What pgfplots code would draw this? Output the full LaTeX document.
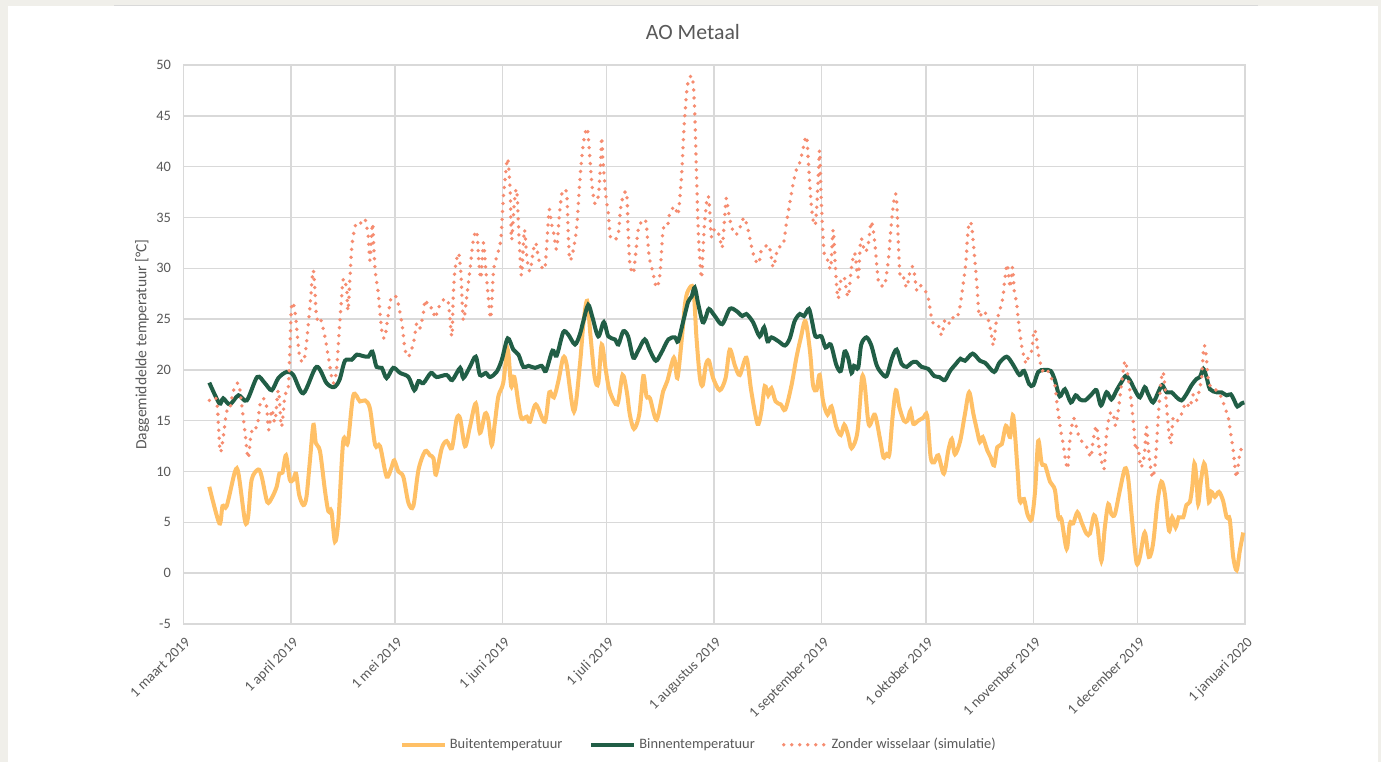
\documentclass[border=0pt]{standalone}
\usepackage{fontspec}
\setmainfont{Carlito}
\usepackage{pgfplots}
\pgfplotsset{compat=1.18}
\definecolor{buiten}{RGB}{255,192,102}
\definecolor{binnen}{RGB}{33,94,70}
\definecolor{zonder}{RGB}{246,140,112}
\definecolor{gridc}{RGB}{217,217,217}
\definecolor{txt}{RGB}{89,89,89}
\definecolor{beige}{RGB}{240,239,234}
\begin{document}
\begin{tikzpicture}
\fill[beige] (0,0) rectangle (690.5pt,381pt);
\fill[white] (4pt,0) rectangle (689pt,378pt);
\draw[gridc, line width=0.6pt] (57pt,378.2pt) -- (629pt,378.2pt);
\useasboundingbox (0,0) rectangle (690.5pt,381pt);
\begin{axis}[
  at={(91.65pt,69pt)}, anchor=south west,
  width=530.85pt, height=279.5pt, scale only axis,
  xmin=0, xmax=306, ymin=-5, ymax=50,
  ytick={-5,0,5,10,15,20,25,30,35,40,45,50},
  xtick={0,31,61,92,122,153,184,214,245,275,306},
  xticklabels={1 maart 2019, 1 april 2019, 1 mei 2019, 1 juni 2019, 1 juli 2019, 1 augustus 2019, 1 september 2019, 1 oktober 2019, 1 november 2019, 1 december 2019, 1 januari 2020},
  grid=major,
  grid style={gridc, line width=0.7pt},
  axis line style={gridc, line width=0.7pt},
  major tick length=0pt,
  /pgf/number format/assume math mode=true,
  tick label style={text=txt, font=\fontsize{7.2}{8.5}\selectfont},
  yticklabel style={inner sep=0pt, xshift=-6pt},
  x tick label style={xshift=0.5pt, yshift=-6pt, rotate=45, anchor=north east, inner sep=0pt},
  ylabel={Daggemiddelde temperatuur [°C]},
  ylabel style={at={(axis description cs:-0.0389,0.5)}, anchor=center, text=txt, font=\fontsize{7.8}{9}\selectfont},
  title={AO Metaal},
  title style={at={(axis description cs:0.480,1.059)}, anchor=center, yshift=-6pt, text=txt, font=\fontsize{10.9}{13}\selectfont},
  legend columns=3,
  legend style={at={(axis description cs:0.486,-0.216)}, anchor=center, draw=none, fill=none,
    font=\fontsize{7.2}{8.5}\selectfont, text=txt,
    nodes={inner sep=1.5pt},
    /tikz/every even column/.append style={column sep=12pt}},
  legend image code/.code={\draw[#1] (0pt,0pt) -- (21.5pt,0pt);},
]
\addplot[buiten, line width=2pt, smooth, tension=0.5] coordinates {
(7.5,8.5)(10.4,4.9)(11.3,6.6)(12.5,6.6)(14.9,10)(15.9,9.8)(17.8,5.1)(18.7,5.6)(19.7,9.2)(21.6,10.2)(22.6,9.5)(24.2,7)(25.5,7.4)(26.9,8.5)(27.7,9.8)(28.6,9.9)(29.6,11.6)(30.7,9.2)(31.7,9.2)(32.5,9.8)(33.4,7.7)(34.6,6.7)(35.5,7.5)(36.5,11.1)(37.5,14.6)(38.2,12.8)(39.4,12)(40.8,8.2)(41.8,6.1)(42.7,6.1)(43.7,3.1)(44.7,5.2)(46.1,13)(47.4,12.8)(49,17.5)(50.9,16.9)(52.4,17)(53.8,16.2)(55.3,12.6)(56.7,12.5)(58.6,9.5)(60.1,10.5)(60.8,11.1)(62,10)(63.4,9.5)(64.9,6.9)(66.3,6.6)(67.8,10.2)(69.7,12)(71.1,11.6)(72.1,11.3)(72.8,9.7)(74.5,12.3)(75.9,13)(77.4,12.3)(78.8,15.2)(79.8,15.2)(81.2,12.5)(82.6,14.4)(84.3,16.7)(85.5,13.8)(87,15.7)(87.9,15.1)(88.9,12.6)(89.8,14.8)(90.8,17.4)(92.2,18.7)(93.5,22)(94.5,18.4)(95.4,19.3)(96.6,16.7)(97.5,15.2)(99,15.4)(99.9,14.9)(101.6,16.6)(104.2,14.9)(105.5,17.8)(106.8,17.3)(108.1,18.9)(109.5,21.2)(110.5,20.5)(112.6,15.9)(114.3,20.5)(115.3,24.5)(116.4,26.8)(117.4,23.2)(118.6,19.2)(119.6,18.7)(120.6,22.5)(121.8,19.9)(122.9,17.9)(125.1,16.6)(126.6,19.5)(127.8,17.9)(128.7,15.6)(129.9,14.2)(131.4,15.6)(132.6,19.4)(133.5,17.4)(134.5,17.2)(136.4,15.1)(138.3,17.9)(139.5,18.9)(141.4,21.2)(142.4,19.2)(143.6,22.8)(144.6,26.5)(145.5,27.8)(147,28)(147.9,23.2)(148.9,19.2)(149.7,18.5)(150.6,20.5)(151.5,20.9)(152.7,19.2)(154.6,18)(156.3,19.2)(157.5,22)(159,20.4)(160.4,19.5)(162.3,21.2)(163.7,17.9)(165.5,14.7)(166.6,15.9)(167.6,18.4)(168.6,17.5)(169.5,18.2)(170.7,16.9)(172.2,16.6)(173.5,16.1)(175.3,18.5)(176.7,21.2)(178,23.2)(179.3,24.8)(180.6,21.9)(181.5,18.5)(182.5,18)(183.4,19.5)(184.4,16.9)(185.7,15.6)(186.8,16.4)(188.2,14.4)(189.5,13.6)(190.5,14.6)(191.6,13.6)(192.6,12.3)(194.3,13.9)(195.6,19.2)(196.4,18.5)(197.6,14.6)(199.3,15.6)(200.8,13.2)(201.8,11.4)(202.7,11.7)(203.5,11.7)(204.4,15.3)(205.4,18)(206.4,16.3)(207.7,15)(208.7,15)(209.6,16)(210.4,14.7)(211.8,15)(213.3,15.3)(214.4,15.5)(215.4,11.4)(216.4,10.9)(217.6,11.6)(219.2,9.8)(220.5,12.1)(221.5,13.2)(222.4,11.7)(223.9,13)(225.3,15.7)(226.5,17.8)(227.7,15.7)(228.8,14)(229.6,12.9)(230.4,13.4)(231.7,12.1)(232.7,11.4)(233.7,10.6)(234.6,12.4)(235.9,12.7)(237.1,14.5)(238.3,13.4)(239.2,15.5)(240.4,10.4)(241.1,7.1)(242.3,7.3)(243.3,5.8)(244.5,5.3)(245.5,8.1)(246.4,13)(247.4,10.8)(248.4,10.6)(249.8,9)(251.2,8.2)(252.2,5.5)(253.1,5.3)(254.6,2.4)(255.5,4.9)(256.5,4.9)(257.7,6)(258.9,5)(260.3,3.9)(261.3,3.9)(262.5,5.7)(263.5,4.5)(264.6,1.2)(265.6,4.5)(266.6,6.8)(267.5,5.8)(268.5,5.8)(269.9,8.1)(271.4,10.3)(272.3,9.4)(273.3,5.8)(274.7,1.1)(275.7,1.6)(277.1,4)(278.3,1.6)(279.5,2.9)(280.8,7.1)(281.9,9)(282.9,7.8)(284.1,4.2)(285,5.5)(286,4.5)(286.9,5.5)(288.2,5.5)(289.1,6.7)(290.1,7)(290.8,8.5)(291.4,10.8)(292,9.4)(292.5,6.8)(293.3,9.1)(294.2,10.8)(294.9,9.6)(295.6,7)(296.3,8)(297.3,7.5)(298.5,8)(299.7,7.1)(300.7,5.5)(301.6,5.3)(302.6,1.6)(303.6,0.3)(304.5,2.2)(305.5,4)
};
\addlegendentry{Buitentemperatuur}
\addplot[binnen, line width=2pt, smooth, tension=0.5] coordinates {
(7.5,18.75)(10.4,16.7)(11.5,17.2)(13.4,16.6)(15.9,17.5)(18.3,17)(21.3,19.3)(23.5,18.7)(25.5,18)(27.4,19.2)(29.8,19.8)(31.7,19.5)(34.6,17.7)(38.4,20.3)(41.3,18.7)(43.4,18.3)(45,19)(46.6,20.9)(48.5,21)(50,21.5)(51.4,21.4)(53.3,21.3)(54.5,21.8)(55.7,20.3)(57.2,20.2)(58.6,19.2)(60.5,20.2)(62.5,19.7)(64.9,19.3)(66.6,18)(67.8,18.9)(69.2,18.7)(71.4,19.7)(73,19.3)(75.9,19.5)(77.5,19)(79.8,20.2)(80.7,19.2)(82.6,20.3)(84.3,21.3)(85.5,19.5)(87.2,19.7)(88.4,19.3)(90.3,19.8)(91.8,21)(93.5,23.1)(95.1,22)(96.6,21.5)(98,20.3)(99.5,20.4)(101.4,20.2)(103.3,20.4)(104.5,19.9)(106.4,21.9)(107.6,21.4)(109.5,23.7)(110.9,23.5)(112.9,22.5)(114.3,23.5)(115.3,24.8)(116.7,26.4)(117.9,25.2)(119.6,23.3)(121.2,24.7)(122.5,23.3)(124.4,23)(125.4,22.5)(126.8,23.8)(128.2,23.3)(129.7,21.2)(131.1,21.9)(133,23)(134.5,21.9)(136.2,20.9)(137.8,21.7)(139.8,23)(141.7,23.2)(142.6,22.8)(144.1,24.8)(145.5,26.7)(146.5,27.2)(147.4,28.1)(148.4,26.5)(149.7,24.7)(150.6,25.2)(151.5,26)(153.2,25.3)(155.3,24.5)(157.5,26)(159.4,25.8)(161.1,25.3)(162.3,25.5)(164.2,24.7)(166.1,23.3)(167.4,24.2)(168.4,22.8)(169.5,23.2)(171.6,22.8)(173.4,22.4)(174.8,23.1)(176.2,24.8)(177.7,25.5)(178.9,25.3)(180.3,26)(181.2,24.8)(182.2,23.3)(183.9,23.3)(185.1,22.2)(186.6,22.5)(188.2,20.5)(189.5,19.9)(190.6,21.8)(191.6,21.2)(192.6,19.7)(193.3,20.4)(194.5,20.2)(195.4,22.5)(196.9,23.2)(198.3,22.4)(199.8,20.5)(201.2,19.7)(202.7,19.4)(204.2,21.1)(205.6,22)(207,20.6)(208.5,20.3)(209.9,20.7)(211.2,20.8)(212.8,20.3)(214.7,20.1)(216.4,19.4)(217.9,19.3)(219.5,19)(221,19.9)(222.7,20.6)(224,21.1)(225.3,20.9)(227.5,21.6)(229.6,20.9)(231.1,20.7)(233.7,19.8)(235.2,20.7)(237.3,21.3)(239,20.6)(241,19.5)(242.3,19.9)(243.8,18.6)(245,18.5)(246.4,19.8)(248.1,20)(250,19.9)(251.2,19)(252.6,17.4)(254.1,18.1)(255.8,16.8)(257.2,17.5)(258.4,17.1)(259.9,17)(261.8,17.6)(263.2,18)(264.5,16.5)(266.1,17.8)(267.5,17.1)(269,18)(270.4,18.8)(271.6,19.4)(272.8,19)(274.3,18)(275.7,17.3)(277.1,18.3)(278.1,17.6)(279.5,16.8)(281,17.8)(282.1,18.5)(283.4,17.8)(284.8,17.8)(286.3,17.3)(287.7,17)(289.1,17.6)(290.6,18.5)(292,19.1)(293,19.3)(294,20.1)(294.9,19.3)(295.9,18.1)(297.8,17.8)(299.2,17.8)(300.7,17.5)(301.9,17.6)(302.9,17)(303.8,16.4)(305,16.7)(305.8,16.8)
};
\addlegendentry{Binnentemperatuur}
\addplot[zonder, line width=1.9pt, line cap=round, dash pattern=on 0pt off 4pt, smooth, tension=0.5] coordinates {
(7.5,17)(9.6,17)(10.6,12)(11.5,13.4)(12.5,15.9)(13.4,16.1)(14.4,17.9)(15.9,18.7)(16.8,16.7)(17.8,13.8)(18.7,11.3)(19.4,13.4)(20.2,14.4)(21.3,14.4)(22.1,16.6)(23.1,17.2)(24,16.4)(24.6,14.1)(25.5,16.1)(26.4,14.9)(27.4,18)(28.3,14.4)(29.3,17.5)(30.3,18.4)(31.2,26.2)(32.2,25.7)(33.4,21.6)(34.6,20.8)(35.5,22.6)(36.5,26.2)(37.5,29.8)(38.4,25.2)(39.4,25.2)(40.8,23.3)(41.8,21.3)(43.2,18.7)(44.2,20.2)(45.1,24.6)(46.1,28.9)(47.1,27.9)(47.5,25.9)(48.5,31.8)(49.5,34.1)(50.5,34.6)(51.4,34.4)(52.4,34.8)(53.3,33.1)(53.8,30.8)(54.5,34.4)(54.8,32.8)(55.3,29.8)(56.2,27.5)(57.2,23.9)(58,23.1)(58.6,24.3)(59.6,26.6)(60.1,27.2)(61.5,27.1)(63,24.6)(63.9,22)(64.9,21.3)(66.3,22.6)(67.3,24.6)(68.2,24.1)(69.2,25.6)(69.7,26.9)(70.8,26.1)(71.8,26.1)(72.6,25.1)(73.3,25.9)(74.3,26.6)(75.4,27)(76.4,26.6)(77.4,23.3)(77.8,27.2)(78.3,29.8)(79.3,31.5)(80,29.5)(80.7,24.9)(81.7,27.2)(82.6,29.8)(83.6,32.8)(84.6,33.6)(85.2,30.5)(85.8,29)(86.5,32.5)(87.2,29.8)(87.9,27.2)(88.6,25.1)(89.4,29.7)(90.3,31.1)(91.5,32.8)(92.2,36.7)(92.9,39.3)(93.5,40.8)(94.2,37.7)(94.6,32.8)(95.4,36.4)(96.1,37.7)(96.8,32.8)(97.5,29.3)(98.3,33.8)(99,31.1)(99.9,29.7)(100.9,31.8)(101.6,32.5)(102.3,31.1)(103,30.3)(104.2,30)(104.9,33.1)(105.5,35.8)(106.1,34.4)(106.8,33.4)(107.6,31.9)(108.4,35.3)(109,37.1)(109.5,37.7)(110.5,37.4)(110.9,33.8)(111.4,30.8)(112.4,31.8)(113.4,34.1)(114.1,37.7)(114.8,40.7)(115.5,42.7)(116.4,43.8)(117,41.7)(117.7,38.5)(118.6,36.4)(119.6,37.1)(120.3,40.4)(120.6,42.9)(121,40.4)(121.8,37.1)(122.5,35.4)(123.1,33.1)(124.4,32.8)(125.4,33.4)(126,35.8)(126.8,37.1)(127.8,37.4)(128.2,33.8)(128.7,30.5)(129.7,29.5)(130.4,31.5)(131.1,33.8)(132.1,34.6)(133.3,34.6)(134.3,31.1)(135.2,29.8)(136.4,28.1)(137.4,29.5)(138.3,33.8)(139.5,34.1)(140.2,35.4)(141.7,36.1)(142.6,35.3)(143.6,39.1)(144.3,43.7)(145.1,47.4)(145.8,48.7)(146.8,48.7)(147.4,45.4)(147.9,39.4)(148.4,33.8)(148.9,30.8)(149.4,29.1)(150.1,33.8)(150.8,36.4)(151.3,37.1)(151.7,35.8)(152.2,33.1)(153,33.8)(153.7,33.8)(154.6,33.1)(155.3,32)(155.9,34.4)(156.5,36.9)(157.2,35.4)(158,34.1)(159.1,33.3)(159.9,33.6)(160.9,34.4)(161.6,35)(162.6,34.1)(163.3,32.9)(164.2,31.5)(165.2,30.6)(165.9,30.5)(166.6,31.8)(167.6,32.1)(168.7,32.3)(169.3,31.5)(170,30.1)(171,31.5)(171.6,32.1)(172.9,32.3)(173.8,34.4)(174.8,36.4)(175.8,38.4)(176.7,39.7)(177.7,40.4)(178.6,41.7)(179.6,43)(180.1,40.7)(180.8,37.1)(181.5,34.8)(182.2,34.4)(182.9,38.1)(183.4,41.6)(183.9,36.4)(184.7,31.5)(185.7,30.8)(186.6,30)(187.3,33.8)(188,29.8)(188.7,27)(189.5,28.8)(190.5,29.1)(191.6,27.2)(192.6,30.1)(193.5,31.5)(194.5,29.1)(195.3,32.9)(196.4,31.6)(197.4,32.3)(198.3,34.6)(199.3,32.5)(200.3,28.8)(201.2,28.3)(202.2,28.4)(203.2,30.8)(203.9,33.7)(204.5,35.8)(205.1,37.3)(205.6,36.7)(206.1,32.4)(206.6,29.3)(207.5,29.2)(208.5,28.1)(209.4,29.6)(210.4,30.1)(211.4,27.8)(212.5,28.3)(213.8,27.8)(214.7,27.1)(215.7,25)(216.6,24.4)(217.6,24.4)(218.6,23.4)(219.5,24.9)(220.5,24.5)(221.5,25.2)(222.4,25)(223.4,25.5)(224.1,26.8)(224.8,28.5)(225.6,30.8)(226,33)(226.5,34.5)(227.2,34.2)(227.9,31.7)(228.7,28.5)(229.4,25.3)(230.4,25.8)(231.7,25.3)(232.7,23.9)(233.5,22.4)(234.2,24.5)(235.2,25.7)(236.2,27.1)(236.8,29)(237.5,30.4)(238.3,28.1)(239,30.1)(239.5,27.8)(240.2,26.5)(241,23.9)(241.9,21.9)(242.9,20.6)(243.5,21.2)(244.5,21.9)(245.2,23.9)(245.8,23.4)(246.4,21.6)(247.7,19.9)(248.8,20.1)(250,19.3)(251.2,18.5)(251.7,17)(252.2,15.7)(252.9,14)(253.6,12.7)(254.3,11.1)(254.9,10.3)(255.5,13)(256.5,15.2)(257.2,14.7)(257.9,13.7)(258.9,13)(260,12.6)(260.8,12.1)(261.6,11.4)(262.2,13)(263.2,14.5)(263.9,12.4)(264.6,11.1)(265.4,10.3)(266.1,13.7)(267.1,15.7)(268,15.7)(268.7,14.5)(269.6,16.3)(270.4,18.6)(271.4,20.9)(272.1,19.8)(272.8,18)(273.5,16)(274.1,13.7)(274.5,12.1)(275.2,12.4)(276,10.4)(277,11.7)(277.6,14.4)(278.1,12.4)(278.9,10.1)(279.5,9.4)(280.2,11.1)(281,15.3)(281.7,18.6)(282.4,19.8)(283.1,17.6)(283.9,14.4)(284.6,12.7)(285.3,15.3)(286.3,15)(287.2,15.2)(288.2,16.2)(289.1,16.8)(290.1,16.3)(291.1,17.6)(292,17)(292.7,17.8)(293.5,19.3)(294.2,22.4)(294.9,21.1)(295.4,19.1)(296.3,18.2)(297.8,18)(299.2,17.3)(300.2,16.3)(301.2,15.3)(301.9,13.7)(302.6,12.1)(303.1,10.4)(303.6,9.4)(304.2,11.1)(304.8,12.1)(305.5,12.7)
};
\addlegendentry{Zonder wisselaar (simulatie)}
\end{axis}
\end{tikzpicture}
\end{document}
